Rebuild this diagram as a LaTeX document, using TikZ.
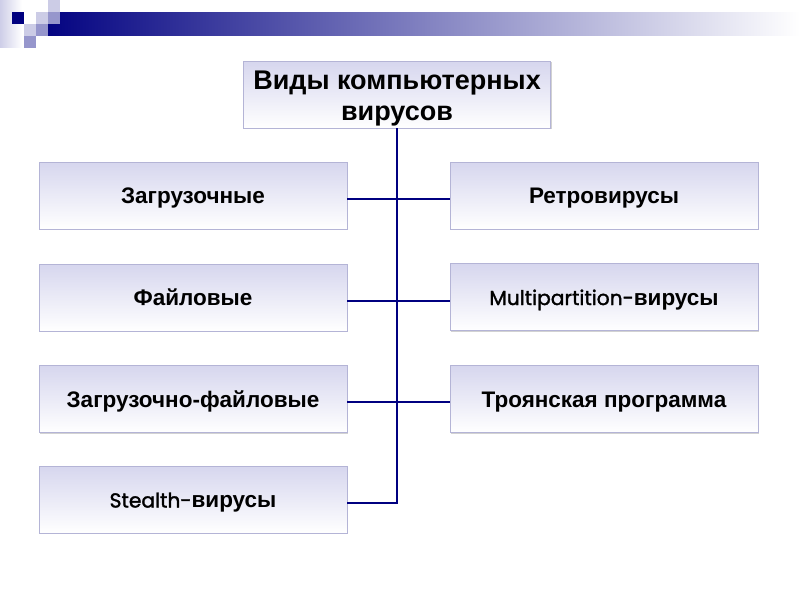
\documentclass[tikz,border=0pt]{standalone}
\usepackage{fontspec}
\setmainfont{Liberation Sans}
\newfontfamily\latfont{Poppins}[Scale=0.9, FakeBold=1.6]
\usetikzlibrary{shadows}

\definecolor{navy}{RGB}{0,0,128}
\definecolor{boxtop}{RGB}{214,214,238}
\definecolor{boxline}{RGB}{180,180,214}
\definecolor{sqlight}{RGB}{204,204,230}
\definecolor{sqmid}{RGB}{150,150,204}
\definecolor{striptop}{RGB}{206,206,232}

\begin{document}
\begin{tikzpicture}[
    x=1pt, y=-1pt,
    kind/.style={draw=boxline, line width=0.8pt, top color=boxtop, bottom color=white,
        minimum width=308pt, minimum height=67pt, inner sep=0pt,
        text height=16pt, text depth=0pt,
        font=\fontsize{22.5}{27}\selectfont\bfseries,
        drop shadow={shadow xshift=1.2pt, shadow yshift=-1.2pt, opacity=0.35, fill=gray}},
    rootbox/.style={kind, align=center, text height=51pt, text depth=0pt,
        font=\fontsize{27}{31}\selectfont\bfseries},
    link/.style={draw=navy, line width=2pt}
]
\useasboundingbox (0,0) rectangle (800,600);
\fill[white] (0,0) rectangle (800,600);

% header strip
\shade[left color=striptop, right color=white] (0,0) rectangle (22,47);
\shade[left color=navy, right color=white] (36,12) rectangle (800,35);
\fill[navy] (12,12) rectangle (24,24);
\fill[sqlight] (36,12) rectangle (48,24);
\fill[sqlight] (48,0) rectangle (60,12);
\fill[sqmid] (48,12) rectangle (60,24);
\fill[sqlight] (24,24) rectangle (36,36);
\fill[sqmid] (36,24) rectangle (48,36);
\fill[sqmid] (24,36) rectangle (36,48);

% boxes
\node[rootbox, minimum width=307pt] (root) at (397,94.5) {Виды компьютерных\\вирусов};

\node[kind] (boot) at (193,195.5) {Загрузочные};
\node[kind] (file) at (193,297.5) {Файловые};
\node[kind] (bootfile) at (193,399) {Загрузочно-файловые};
\node[kind] (stealth) at (193,499.5) {{\mdseries\latfont Stealth-}вирусы};

\node[kind] (retro) at (604,195.5) {Ретровирусы};
\node[kind] (multi) at (604,297) {{\mdseries\latfont Multipartition-}вирусы};
\node[kind] (trojan) at (604,399) {Троянская программа};

% connectors
\draw[link] (root.south) |- ([yshift=-3pt]stealth.east);
\draw[link] ([yshift=-3pt]boot.east) -- ([yshift=-3pt]retro.west);
\draw[link] ([yshift=-3pt]file.east) -- ([yshift=-3pt]file.east -| multi.west);
\draw[link] ([yshift=-3pt]bootfile.east) -- ([yshift=-3pt]trojan.west);
\end{tikzpicture}
\end{document}
